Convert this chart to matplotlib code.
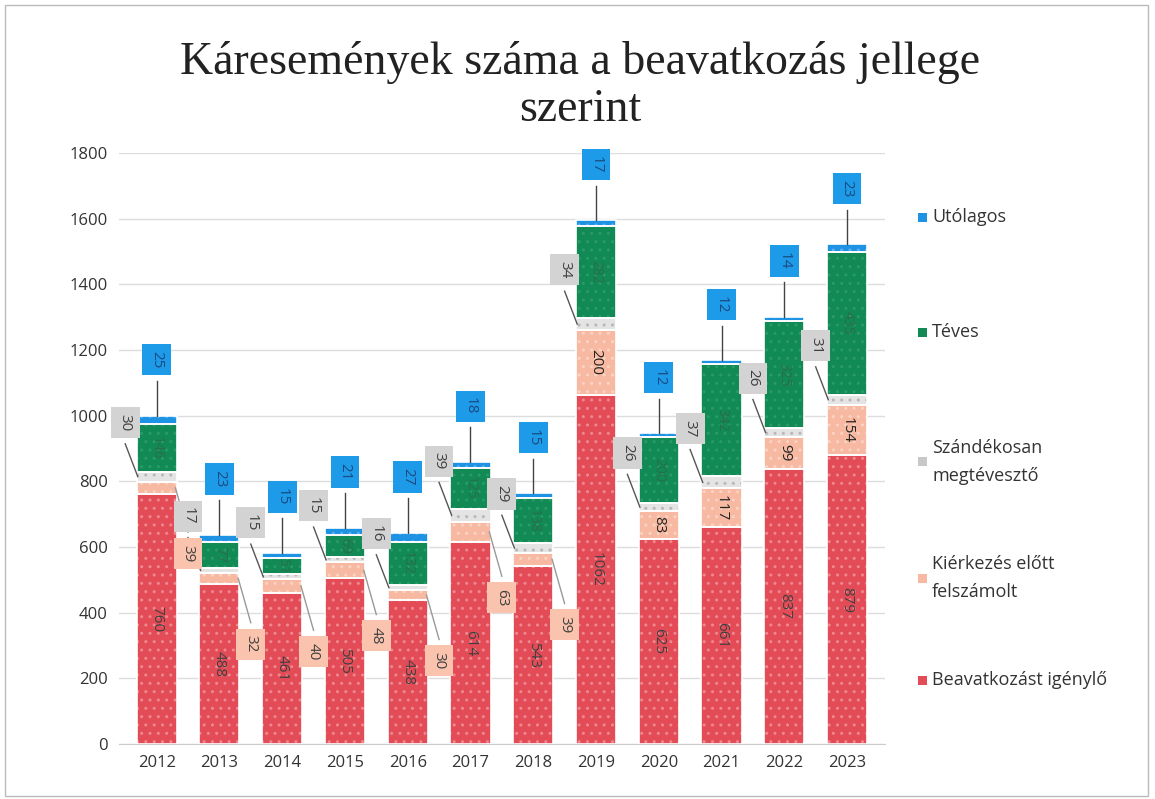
import matplotlib
matplotlib.use("Agg")
import matplotlib.pyplot as plt
from matplotlib.patches import Rectangle
import numpy as np

years = ["2012", "2013", "2014", "2015", "2016", "2017", "2018", "2019", "2020", "2021", "2022", "2023"]
beavatkozast = [760, 488, 461, 505, 438, 614, 543, 1062, 625, 661, 837, 879]
kierkezes = [39, 32, 40, 48, 30, 63, 39, 200, 83, 117, 99, 154]
szandekosan = [30, 17, 15, 15, 16, 39, 29, 34, 26, 37, 26, 31]
teves = [146, 77, 51, 69, 132, 125, 138, 282, 200, 342, 325, 435]
utolagos = [25, 23, 15, 21, 27, 18, 15, 17, 12, 12, 14, 23]

series_names = ["Beavatkozást igénylő", "Kiérkezés előtt\nfelszámolt", "Szándékosan\nmegtévesztő", "Téves", "Utólagos"]
colors = ["#e34b57", "#f7b9a2", "#e4e4e4", "#118a55", "#1e93e3"]
hatch_colors = ["#ee8890", "#fad3c4", "#b8b8b8", "#2a9a66", "#5ab0ee"]
yticks = [0, 200, 400, 600, 800, 1000, 1200, 1400, 1600, 1800]

plt.rcParams['font.family'] = ['Open Sans', 'DejaVu Sans']
plt.rcParams['hatch.linewidth'] = 1.0
fig = plt.figure(figsize=(11.55, 7.99), dpi=100)
ax = fig.add_axes([0.103, 0.069, 0.663, 0.7395])

x = np.arange(len(years))
w = 0.64
data = [beavatkozast, kierkezes, szandekosan, teves, utolagos]
bottom = np.zeros(len(years))
bottoms = []
for vals, col, hc in zip(data, colors, hatch_colors):
    bottoms.append(bottom.copy())
    ax.bar(x, vals, w, bottom=bottom, color=col, edgecolor=hc, linewidth=0,
           hatch="..", zorder=3)
    ax.bar(x, vals, w, bottom=bottom, fill=False, edgecolor="white", linewidth=1.2,
           zorder=3.5)
    bottom += np.array(vals)

ax.set_xlim(-0.6, 11.6)
ax.set_ylim(0, 1800)
ax.set_yticks(yticks)
ax.set_yticklabels([str(t) for t in yticks], fontsize=12, color="#333333")
ax.set_xticks(x)
ax.set_xticklabels(years, fontsize=12, color="#333333")
ax.tick_params(length=0, pad=8)
ax.yaxis.grid(True, color="#dddddd", linewidth=1, zorder=0)
for s in ["top", "right", "left"]:
    ax.spines[s].set_visible(False)
ax.spines["bottom"].set_color("#cccccc")

txtc = "#404040"
bpad = "square,pad=0.45"
for i in range(len(years)):
    # red label inside
    b = bottoms[0][i]
    ax.text(x[i], b + beavatkozast[i] / 2, str(beavatkozast[i]), rotation=270,
            ha="center", va="center", fontsize=11, color=txtc, zorder=5)
    # green label inside
    b = bottoms[3][i]
    ax.text(x[i], b + teves[i] / 2, str(teves[i]), rotation=270,
            ha="center", va="center", fontsize=10, color="#2a6e4a", zorder=5)
    # pink
    b = bottoms[1][i]
    if kierkezes[i] >= 80:
        ax.text(x[i], b + kierkezes[i] / 2, str(kierkezes[i]), rotation=270,
                ha="center", va="center", fontsize=11, color="#222222", zorder=5)
    else:
        ty = b + kierkezes[i] / 2 - 200
        ax.plot([x[i] + 0.3, x[i] + 0.5], [b + kierkezes[i] / 2, ty + 65],
                color="#999999", lw=1, zorder=4)
        ax.text(x[i] + 0.5, ty, str(kierkezes[i]), rotation=270, ha="center", va="center",
                fontsize=11, color=txtc, zorder=6,
                bbox=dict(boxstyle=bpad, fc="#f9c3ad", ec="none"))
    # gray
    b = bottoms[2][i]
    ty = b + szandekosan[i] / 2 + 165
    ax.plot([x[i] - 0.3, x[i] - 0.5], [b + szandekosan[i] / 2, ty - 65],
            color="#555555", lw=1, zorder=4)
    ax.text(x[i] - 0.5, ty, str(szandekosan[i]), rotation=270, ha="center", va="center",
            fontsize=11, color=txtc, zorder=6,
            bbox=dict(boxstyle=bpad, fc="#d3d3d3", ec="none"))
    # blue
    top = bottom[i]
    ty = top + 170
    ax.plot([x[i], x[i]], [top, ty - 65], color="#444444", lw=1, zorder=4)
    ax.text(x[i], ty, str(utolagos[i]), rotation=270, ha="center", va="center",
            fontsize=11, color="#1a4a80", zorder=6, clip_on=False,
            bbox=dict(boxstyle=bpad, fc="#1e9be8", ec="none"))

# legend (manual)
leg_y = [217, 332, 462, 578, 680]
leg_order = [4, 3, 2, 1, 0]
for yy, k in zip(leg_y, leg_order):
    fy = 1 - yy / 799
    fig.patches.append(Rectangle((918 / 1155, fy - 4.5 / 799), 9 / 1155, 9 / 799,
                                 transform=fig.transFigure, fc=colors[k] if k != 2 else "#c8c8c8",
                                 ec="none"))
    fig.text(932 / 1155, fy, series_names[k], fontsize=13, color="#333333",
             va="center", ha="left", linespacing=1.7)

fig.text(0.502, 1 - 62 / 799, "Káresemények száma a beavatkozás jellege", fontsize=33,
         family="Liberation Serif", ha="center", va="center", color="#222222")
fig.text(0.502, 1 - 110 / 799, "szerint", fontsize=33,
         family="Liberation Serif", ha="center", va="center", color="#222222")

fig.patches.append(Rectangle((0.004, 0.004), 0.99, 0.99, transform=fig.transFigure,
                             fc="none", ec="#bbbbbb", lw=1))
fig.savefig("out.png", dpi=100)
